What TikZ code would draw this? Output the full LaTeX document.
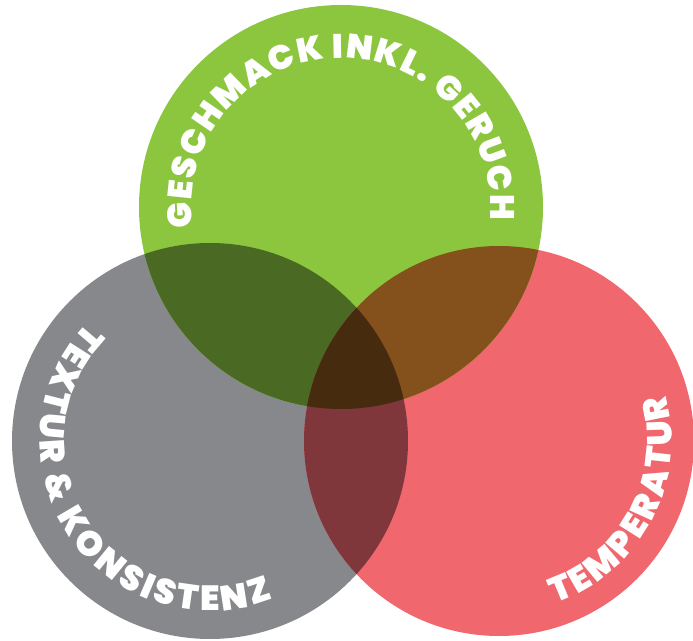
\documentclass[tikz,border=0pt]{standalone}
\usepackage{fontspec}
\IfFontExistsTF{Poppins Black}
  {\newfontfamily\lblface{Poppins Black}\newcommand\lblfont{\lblface}}
  {\IfFontExistsTF{Poppins ExtraBold}
    {\newfontfamily\lblface{Poppins ExtraBold}\newcommand\lblfont{\lblface}}
    {\newfontfamily\lblface{Poppins}\newcommand\lblfont{\lblface\bfseries}}}
\usetikzlibrary{decorations.text}
\definecolor{cgreen}{HTML}{8CC63F}
\definecolor{cgrey}{HTML}{87888C}
\definecolor{cred}{HTML}{F0676E}
\definecolor{cgy}{HTML}{4A6A23}
\definecolor{cgr}{HTML}{84501B}
\definecolor{cyr}{HTML}{7F373C}
\definecolor{call}{HTML}{462B0F}
\tikzset{
  circlabel/.style={decorate, decoration={text along path, text align=fit to path, text color=white, text={#1}}}
}
\begin{document}
\begin{tikzpicture}[x=1pt,y=1pt]
\useasboundingbox (0,0) rectangle (693,640);
\coordinate (g) at (341,433);
\coordinate (y) at (210,199);
\coordinate (r) at (499,199);
\fill[cgrey] (y) circle[radius=198];
\fill[cred] (r) circle[radius=195];
\fill[cgreen] (g) circle[radius=202];
\begin{scope}
  \clip (g) circle[radius=202];
  \fill[cgy] (y) circle[radius=198];
  \fill[cgr] (r) circle[radius=195];
\end{scope}
\begin{scope}
  \clip (y) circle[radius=198];
  \fill[cyr] (r) circle[radius=195];
\end{scope}
\begin{scope}
  \clip (g) circle[radius=202];
  \clip (y) circle[radius=198];
  \fill[call] (r) circle[radius=195];
\end{scope}
\path[circlabel={|\lblfont\fontsize{34}{40}\selectfont|GESCHMACK INKL. GERUCH}]
  ([shift={(188:149)}]g) arc[start angle=188, end angle=-5, radius=149];
\path[circlabel={|\lblfont\fontsize{35}{40}\selectfont|TEXTUR {\&} KONSISTENZ}]
  ([shift={(136:170)}]y) arc[start angle=136, end angle=292, radius=170];
\path[circlabel={|\lblfont\fontsize{35}{40}\selectfont|TEMPERATUR}]
  ([shift={(-71:172)}]r) arc[start angle=-71, end angle=15, radius=173];
\end{tikzpicture}
\end{document}
